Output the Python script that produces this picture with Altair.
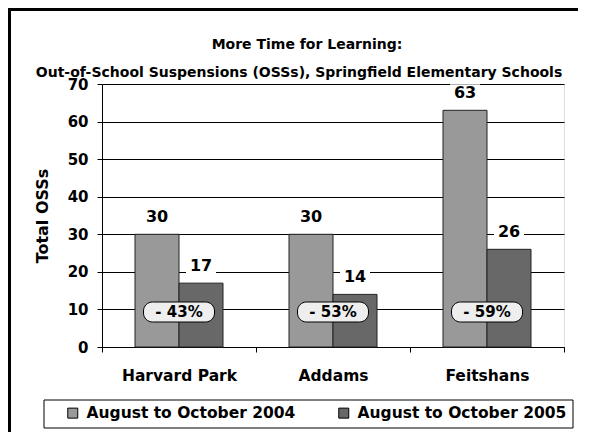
import altair as alt
import pandas as pd

schools = ["Harvard Park", "Addams", "Feitshans"]
periods = ["August to October 2004", "August to October 2005"]
osss_2004 = [30, 30, 63]
osss_2005 = [17, 14, 26]
change_labels = ["- 43%", "- 53%", "- 59%"]
y_ticks = [0, 10, 20, 30, 40, 50, 60, 70]
title_line1 = "More Time for Learning:"
title_line2 = "Out-of-School Suspensions (OSSs), Springfield Elementary Schools"

rows = []
for s, a, b in zip(schools, osss_2004, osss_2005):
    rows.append({"school": s, "period": periods[0], "osss": a})
    rows.append({"school": s, "period": periods[1], "osss": b})
df = pd.DataFrame(rows)
df_pct = pd.DataFrame({"school": schools, "label": change_labels})
df_one = pd.DataFrame({"k": [0]})
df_t1 = pd.DataFrame({"t": [title_line1]})
df_t2 = pd.DataFrame({"t": [title_line2]})

FONT = "DejaVu Sans"

x_enc = alt.X("school:N", sort=schools,
              scale=alt.Scale(paddingInner=0, paddingOuter=0),
              axis=alt.Axis(title=None, tickBand="extent", labelAngle=0,
                            labelFont=FONT, labelFontSize=15.5, labelFontWeight="bold",
                            labelColor="#000", tickColor="#000", domainColor="#000",
                            tickSize=5, labelPadding=16, grid=False))
xoff_enc = alt.XOffset("period:N", sort=periods,
                       scale=alt.Scale(paddingInner=0, paddingOuter=0.75))
y_scale = alt.Scale(domain=[0, 70], nice=False, zero=True)
y_axis = alt.Axis(values=y_ticks, tickCount=20, title="Total OSSs", grid=True,
                  gridColor="#000", gridWidth=1, domainColor="#000",
                  tickColor="#000", tickSize=5, labelPadding=9, labelOverlap=False,
                  labelFont=FONT, labelFontSize=15, labelFontWeight="bold",
                  labelColor="#000",
                  titleFont=FONT, titleFontSize=16, titleFontWeight="bold",
                  titleColor="#000", titleAngle=-90, titleX=-60, titleY=131.5,
                  titleAlign="center", titleBaseline="middle")
y_enc = alt.Y("osss:Q", scale=y_scale, axis=y_axis)

bars = alt.Chart(df).mark_bar(stroke="#222", strokeWidth=1).encode(
    x=x_enc,
    xOffset=xoff_enc,
    y=y_enc,
    color=alt.Color("period:N", sort=periods,
                    scale=alt.Scale(domain=periods, range=["#999999", "#686868"]),
                    legend=alt.Legend(title=None, orient="none", legendX=-37, legendY=321,
                                      direction="horizontal", symbolType="square",
                                      symbolSize=100, symbolStrokeColor="#000",
                                      symbolStrokeWidth=1, labelFont=FONT,
                                      labelFontSize=15.5, labelFontWeight="bold",
                                      labelColor="#000", labelOffset=6, labelLimit=400,
                                      columnPadding=40, padding=0)),
)

box_path = "M -1.5 -0.9 L 1.5 -0.9 L 1.5 0.9 L -1.5 0.9 Z"
label_bg = alt.Chart(df).mark_point(shape=box_path, size=400, filled=True,
                                    fill="white", opacity=1, strokeWidth=0,
                                    yOffset=-17).encode(
    x=x_enc, xOffset=xoff_enc, y=y_enc)

value_text = alt.Chart(df).mark_text(font=FONT, fontSize=16, fontWeight="bold",
                                     color="#000", dy=-17, baseline="middle").encode(
    x=x_enc, xOffset=xoff_enc, y=y_enc, text="osss:Q")

pill_path = ("M -2.65 -1 L 2.65 -1 A 0.9 0.9 0 0 1 3.55 -0.1 L 3.55 0.1 "
             "A 0.9 0.9 0 0 1 2.65 1 L -2.65 1 A 0.9 0.9 0 0 1 -3.55 0.1 "
             "L -3.55 -0.1 A 0.9 0.9 0 0 1 -2.65 -1 Z")
pills = alt.Chart(df_pct).mark_point(shape=pill_path, size=400, fill="#eeeeee",
                                     stroke="#000", strokeWidth=1, opacity=1,
                                     filled=False, fillOpacity=1).encode(
    x=x_enc, y=alt.value(228))
pill_text = alt.Chart(df_pct).mark_text(font=FONT, fontSize=15, fontWeight="bold",
                                        color="#000", baseline="middle").encode(
    x=x_enc, y=alt.value(228), text="label:N")

legend_box = alt.Chart(df_one).mark_rect(fill="white", stroke="#000", strokeWidth=1).encode(
    x=alt.value(-58), x2=alt.value(471), y=alt.value(316), y2=alt.value(344))

frame_top = alt.Chart(df_one).mark_rule(color="#000", strokeWidth=3).encode(
    x=alt.value(-94), x2=alt.value(476), y=alt.value(-74.5))
frame_left = alt.Chart(df_one).mark_rule(color="#000", strokeWidth=3).encode(
    x=alt.value(-92.5), y=alt.value(-76), y2=alt.value(348))

t1 = alt.Chart(df_t1).mark_text(font=FONT, fontSize=14, fontWeight="bold", color="#000",
                                baseline="middle", align="center").encode(
    x=alt.value(205), y=alt.value(-39), text="t:N")
t2 = alt.Chart(df_t2).mark_text(font=FONT, fontSize=14, fontWeight="bold", color="#000",
                                baseline="middle", align="center").encode(
    x=alt.value(197), y=alt.value(-11), text="t:N")

chart = alt.layer(frame_top, frame_left, legend_box, bars, label_bg, value_text,
                  pills, pill_text, t1, t2).properties(
    width=462, height=263,
    autosize=alt.AutoSizeParams(type="none"),
    padding={"left": 94, "top": 76, "right": 22, "bottom": 85},
).configure_view(stroke="#000", strokeWidth=1).configure(background="white")

chart.save("out.html", embed_options={"renderer": "svg", "actions": False})
